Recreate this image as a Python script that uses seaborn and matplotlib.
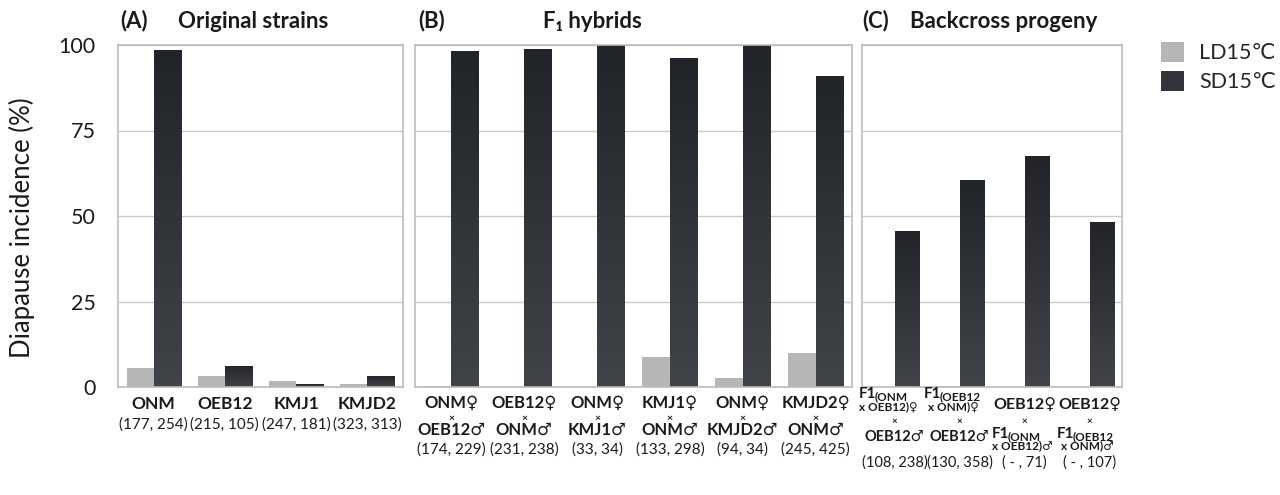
import numpy as np
import pandas as pd
import matplotlib
matplotlib.use("Agg")
import matplotlib.pyplot as plt
import matplotlib.transforms as mtransforms
from matplotlib.colors import LinearSegmentedColormap
from matplotlib.patches import Patch
import seaborn as sns

# values (% diapause)
a_strains = ["ONM", "OEB12", "KMJ1", "KMJD2"]
a_ld = [5.5, 3.2, 1.8, 0.8]
a_sd = [98.5, 6.2, 0.8, 3.3]
a_n = ["(177, 254)", "(215, 105)", "(247, 181)", "(323, 313)"]

b_female = ["ONM♀", "OEB12♀", "ONM♀", "KMJ1♀", "ONM♀", "KMJD2♀"]
b_male = ["OEB12♂", "ONM♂", "KMJ1♂", "ONM♂", "KMJD2♂", "ONM♂"]
b_ld = [0.3, 0.0, 0.0, 8.8, 2.6, 9.8]
b_sd = [98.2, 98.8, 100.0, 96.2, 100.0, 91.0]
b_n = ["(174, 229)", "(231, 238)", "(33, 34)", "(133, 298)", "(94, 34)", "(245, 425)"]

c_female = ["F1(ONM", "F1(OEB12", "OEB12♀", "OEB12♀"]
c_female_2 = ["x OEB12)♀", "x ONM)♀", "", ""]
c_male = ["OEB12♂", "OEB12♂", "F1(ONM", "F1(OEB12"]
c_male_2 = ["", "", "x OEB12)♂", "x ONM)♂"]
c_ld = [0.0, 0.4, np.nan, np.nan]
c_sd = [45.5, 60.5, 67.5, 48.3]
c_n = ["(108, 238)", "(130, 358)", "( - , 71)", "( - , 107)"]

conditions = ["LD15℃", "SD15℃"]
ld_color = "#b5b7b6"
sd_color = "#313438"

sns.set_style("white")
FONT = ["Lato", "DejaVu Sans"]
plt.rcParams["font.family"] = FONT
TXT = "#1a1a1a"


def long_table(keys, ld, sd):
    rows = []
    for k, l, s in zip(keys, ld, sd):
        rows.append({"key": k, "cond": conditions[0], "val": l})
        rows.append({"key": k, "cond": conditions[1], "val": s})
    return pd.DataFrame(rows)


sd_cmap = LinearSegmentedColormap.from_list("sdgrad", ["#404347", "#212428"])


def draw_panel(ax, keys, ld, sd):
    df = long_table(keys, ld, sd)
    sns.barplot(data=df, x="key", y="val", hue="cond", order=keys,
                hue_order=conditions, palette=[ld_color, sd_color],
                width=0.76, errorbar=None, legend=False, ax=ax,
                edgecolor="none", linewidth=0)
    # subtle vertical shading on the dark bars
    grad = np.linspace(0, 1, 64).reshape(-1, 1)
    for bar in ax.containers[1]:
        h = bar.get_height()
        if not np.isfinite(h) or h <= 0:
            continue
        x0 = bar.get_x()
        im = ax.imshow(grad, extent=[x0, x0 + bar.get_width(), 0, h],
                       origin="lower", aspect="auto", cmap=sd_cmap, zorder=bar.get_zorder() + 0.1)
        im.set_clip_path(bar)
    ax.set_xlim(-0.5, len(keys) - 0.5)
    ax.set_ylim(0, 100)
    ax.set_yticks([0, 25, 50, 75, 100])
    ax.yaxis.grid(True, color="#c9c9c9", linewidth=1)
    ax.set_axisbelow(True)
    for s in ax.spines.values():
        s.set_visible(True)
        s.set_color("#bcbcbc")
        s.set_linewidth(1.2)
    ax.set_xticks(range(len(keys)))
    ax.set_xticklabels([])
    ax.tick_params(axis="both", length=0)
    ax.set_xlabel("")
    ax.set_ylabel("")


fig = plt.figure(figsize=(12.8, 4.95), dpi=100)
H = 495.0
bottom = 1 - 387 / H
height = (387 - 45) / H
ax_a = fig.add_axes([118 / 1280, bottom, (403 - 118) / 1280, height])
ax_b = fig.add_axes([415 / 1280, bottom, (852 - 415) / 1280, height])
ax_c = fig.add_axes([862 / 1280, bottom, (1122 - 862) / 1280, height])

draw_panel(ax_a, a_strains, a_ld, a_sd)
draw_panel(ax_b, b_n, b_ld, b_sd)
draw_panel(ax_c, c_n, c_ld, c_sd)

ax_a.set_yticklabels(["0", "25", "50", "75", "100"], fontsize=15.5, color=TXT)
ax_a.tick_params(axis="y", pad=16)
ax_b.set_yticklabels([])
ax_c.set_yticklabels([])
fig.text(22 / 1280, 1 - 228 / H, "Diapause incidence (%)", rotation=90,
         ha="center", va="center", fontsize=18.5, color=TXT)


def put(ax, i, ypx, s, dx=0, size=11, bold=True, ha="center"):
    tr = mtransforms.blended_transform_factory(ax.transData, fig.transFigure)
    ax.annotate(s, xy=(i, 1 - ypx / H), xycoords=tr, xytext=(dx, 0),
                textcoords="offset pixels", ha=ha, va="center", fontsize=size,
                fontweight="bold" if bold else "normal", color=TXT,
                annotation_clip=False)


def put_f1(ax, i, ypx, s, dx):
    # "F1(ONM" style: large F1, smaller parent name after it
    put(ax, i, ypx, "F1", dx=dx, size=11, ha="left")
    put(ax, i, ypx + 3, s[2:], dx=dx + 16, size=8.5, ha="left")


# panel A labels
for i in range(len(a_strains)):
    put(ax_a, i, 404, a_strains[i], size=12.5)
    put(ax_a, i, 425, a_n[i], size=11, bold=False)

# panel B labels
for i in range(len(b_n)):
    put(ax_b, i, 403, b_female[i], size=12)
    put(ax_b, i, 418, "×", size=7.5)
    put(ax_b, i, 430, b_male[i], size=12)
    put(ax_b, i, 450, b_n[i], size=11, bold=False)

# panel C labels
for i in range(len(c_n)):
    if c_female[i].startswith("F1("):
        put_f1(ax_c, i, 394, c_female[i], dx=-36)
        put(ax_c, i, 407, c_female_2[i], dx=-6, size=8.5)
    else:
        put(ax_c, i, 405, c_female[i], size=11.5)
    put(ax_c, i, 421, "×", size=7)
    if c_male[i].startswith("F1("):
        put_f1(ax_c, i, 434, c_male[i], dx=-33)
        put(ax_c, i, 446, c_male_2[i], dx=-2, size=8.5)
    else:
        put(ax_c, i, 437, c_male[i], size=10.5)
    put(ax_c, i, 463, c_n[i], size=10.5, bold=False)

# panel titles
ty = 1 - 21 / H
fig.text(120 / 1280, ty, "(A)", fontsize=16, fontweight="bold", va="center", color=TXT)
fig.text(178 / 1280, ty, "Original strains", fontsize=16, fontweight="bold", va="center", color=TXT)
fig.text(418 / 1280, ty, "(B)", fontsize=16, fontweight="bold", va="center", color=TXT)
fig.text(592 / 1280, ty, "F₁ hybrids", fontsize=16, fontweight="bold", va="center", ha="center", color=TXT)
fig.text(862 / 1280, ty, "(C)", fontsize=16, fontweight="bold", va="center", color=TXT)
fig.text(910 / 1280, ty, "Backcross progeny", fontsize=16, fontweight="bold", va="center", color=TXT)

handles = [Patch(facecolor=ld_color, edgecolor="none"), Patch(facecolor=sd_color, edgecolor="none")]
fig.legend(handles, conditions, loc="upper left", bbox_to_anchor=(1152 / 1280, 1 - 33 / H),
           frameon=False, fontsize=15.5, handlelength=1.1, handleheight=1.1,
           handletextpad=0.7, labelspacing=0.35, borderaxespad=0)

fig.savefig("out.png", dpi=100, facecolor="white")
